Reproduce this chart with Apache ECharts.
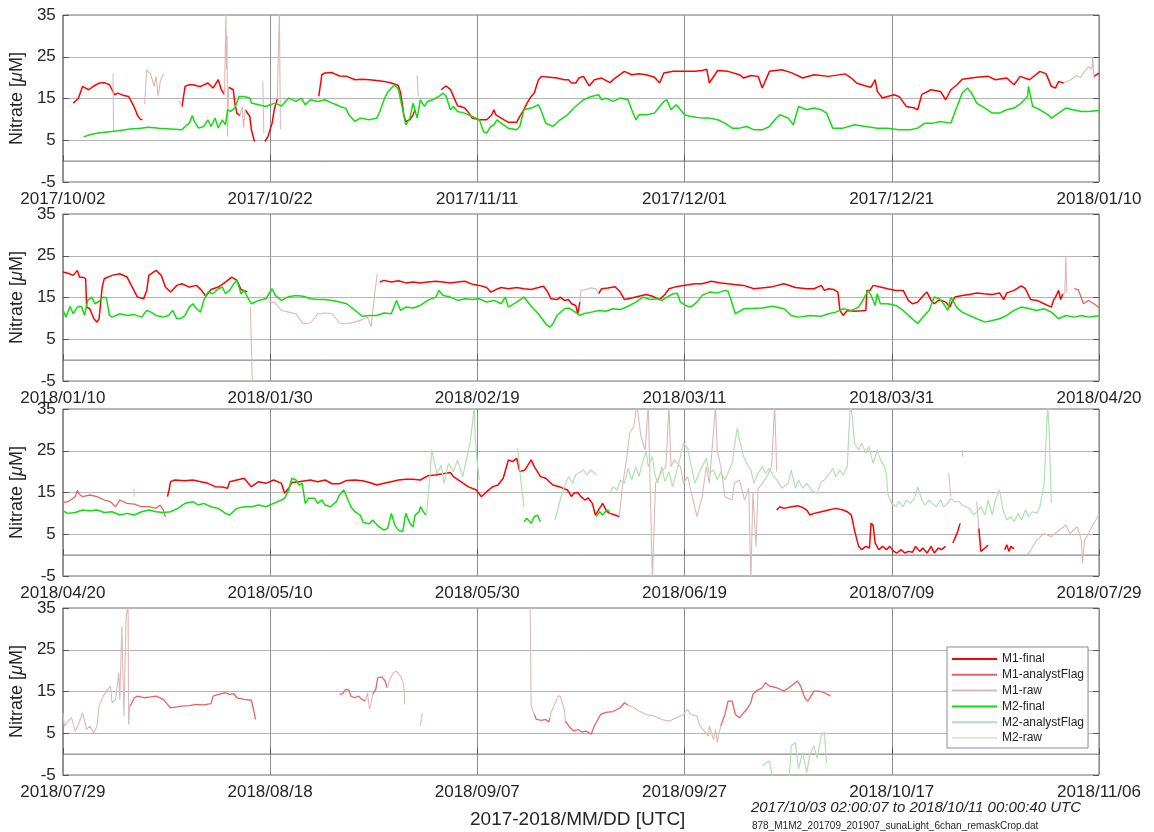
<!DOCTYPE html>
<html>
<head>
<meta charset="utf-8">
<script src="https://cdn.jsdelivr.net/npm/echarts@6/dist/echarts.min.js"></script>
<style>
  html, body { margin: 0; padding: 0; background: #ffffff; }
  #chart { width: 1154px; height: 832px; }
</style>
</head>
<body>
<div id="chart"></div>
<script>
// Nitrate from two SUNA sensors (M1, M2). x = days since 2017/10/02 (UTC), y = nitrate in µM.
// Each panel shows 100 days; null marks a gap in a record.

const panelStarts = [0, 100, 200, 300];
const panelSpan = 100;
const dayTickStep = 20;
const yMin = -5, yMax = 35, yStep = 10;

const seriesNames = ['M1-final', 'M1-analystFlag', 'M1-raw', 'M2-final', 'M2-analystFlag', 'M2-raw'];

const m1Final = [
  [1.0,13.9],[1.5,15.0],[1.9,17.9],[2.2,17.5],[2.5,17.1],[3.0,18.0],[3.5,18.7],[4.0,18.8],[4.5,18.3],[4.75,17.1],
  [5.0,15.9],[5.3,16.3],[5.8,15.8],[6.35,15.5],[6.7,13.9],[7.0,12.3],[7.2,11.0],[7.5,10.0],[7.7,9.9],null,
  [11.5,13.0],[11.8,17.9],[12.2,18.3],[12.55,18.3],[13.0,18.0],[13.3,17.9],[14.0,18.7],[14.5,17.5],[15.0,19.5],[15.3,17.1],[15.6,16.0],null,
  [16.0,17.7],[16.45,17.1],[16.6,13.9],[16.8,11.5],[17.1,10.9],null,
  [17.6,12.3],[18.05,10.7],[18.2,7.5],[18.5,4.7],null,
  [19.5,4.7],[19.8,5.9],[20.2,9.1],[20.4,12.3],[20.7,14.9],null,
  [24.7,15.5],[25.0,20.7],[25.3,21.1],[26.0,21.2],[26.7,20.4],[27.4,20.3],[28.2,19.5],[28.9,19.6],[29.6,19.5],[30.3,19.3],
  [31.0,19.1],[31.7,18.7],[32.2,18.3],[32.4,18.0],[32.6,16.3],[32.8,13.1],[32.9,11.1],[33.1,9.5],[33.5,9.9],[33.8,11.1],[34.0,12.3],null,
  [36.5,17.1],[37.0,18.0],[37.4,17.2],[37.7,15.5],[38.1,13.2],[38.4,13.1],[38.8,12.7],[39.2,11.5],[39.5,10.3],[40.2,9.9],
  [40.9,9.9],[41.4,11.1],[41.6,12.3],[41.8,11.1],[42.3,10.3],[43.0,9.3],[43.8,9.3],[44.1,10.7],[44.5,12.3],[44.8,13.9],
  [45.2,15.5],[45.5,16.3],[45.9,19.5],[46.2,20.3],[47.0,20.1],[47.7,19.9],[48.4,19.5],[48.8,19.5],[49.1,18.7],[49.5,18.7],
  [49.8,19.9],[50.25,20.3],[50.8,18.0],[51.3,19.5],[52.0,19.9],[52.8,18.8],[53.3,19.9],[54.2,21.5],[54.9,20.7],[55.6,20.9],
  [56.3,20.7],[57.1,20.1],[57.6,18.7],[58.0,21.1],[58.9,21.5],[60.0,21.5],[61.0,21.5],[61.7,21.7],[62.15,22.0],[62.4,18.7],
  [62.6,19.5],[63.2,21.7],[64.2,21.5],[65.3,20.7],[65.7,19.9],[66.4,20.5],[67.1,20.3],[67.5,17.5],[67.6,17.9],[68.2,21.5],
  [69.4,21.9],[70.3,21.2],[71.4,19.9],[72.5,20.7],[73.9,20.3],[75.5,20.9],[76.1,19.9],[76.6,18.7],[77.5,18.0],[78.0,17.7],
  [78.4,19.5],[78.6,16.7],[79.1,15.1],[79.6,15.5],[80.2,15.9],[80.7,15.5],[81.4,13.1],[82.2,12.7],[82.5,12.3],[82.9,16.0],
  [83.8,17.1],[84.7,16.7],[85.2,14.7],[85.7,17.1],[86.3,18.3],[86.8,19.6],[88.2,20.1],[89.3,20.3],[90.0,19.5],[91.1,19.9],
  [91.8,18.3],[92.4,20.3],[93.3,19.5],[94.3,21.5],[94.9,20.9],[95.4,17.9],[95.8,17.5],[96.1,19.1],[96.6,18.7],null,
  [99.5,20.3],[100,21.1],[100.5,20.8],[101.0,20.3],[101.4,21.5],[101.6,19.9],[102.0,19.8],[102.2,19.5],[102.3,12.7],[102.6,12.3],
  [103.0,9.9],[103.3,9.1],[103.5,9.9],[103.8,17.5],[104.0,19.5],[104.75,20.3],[105.5,20.7],[106.2,19.9],[106.7,17.5],[107.2,15.1],
  [107.8,14.7],[108.1,16.7],[108.3,20.3],[109.0,21.5],[109.5,20.3],[109.9,17.5],[110.4,16.3],[111.0,17.9],[111.5,18.3],[112.2,17.5],
  [112.9,17.9],[113.4,16.7],[113.8,15.3],[114.3,16.9],[115.0,17.5],[115.7,18.7],[116.3,19.9],[116.8,19.1],[117.2,16.9],[117.8,16.4],null,
  [130.6,18.7],[131.0,19.1],[131.7,18.7],[132.4,19.0],[133.1,18.5],[133.8,18.7],[134.5,18.5],[135.2,18.7],[136.0,18.9],[136.7,18.7],
  [137.4,18.5],[138.1,18.7],[138.8,18.9],[139.5,18.2],[140.2,17.9],[140.9,17.4],[141.3,16.3],[141.8,16.9],[142.3,17.4],[143.0,17.1],
  [143.8,17.4],[144.5,17.1],[145.2,16.9],[145.9,17.4],[146.4,17.7],[146.8,16.3],[147.1,14.7],[147.7,14.5],[148.0,15.1],[148.4,14.3],
  [148.8,14.5],[149.1,13.5],[149.5,13.1],[149.7,11.1],[149.9,13.9],null,
  [151.7,15.9],[152.0,17.1],[152.6,17.3],[153.3,17.6],[153.8,16.3],[154.2,14.5],[154.9,14.9],[155.6,15.3],[156.3,15.7],[156.9,15.3],
  [157.6,14.5],[158.1,15.7],[158.5,17.1],[159.2,17.6],[159.9,17.9],[161.0,18.3],[161.7,18.3],[162.6,18.9],[163.5,18.5],[164.6,18.2],
  [165.7,17.9],[166.7,17.1],[167.4,17.3],[168.5,17.6],[169.6,18.3],[170.7,17.4],[171.8,17.1],[172.5,17.1],[173.2,17.9],[173.5,16.7],
  [173.9,17.1],[174.4,16.9],[174.8,16.3],[175.0,11.9],[175.3,10.7],[175.7,11.9],[176.4,11.7],[177.1,11.8],[177.5,11.9],[177.6,16.7],
  [177.9,16.7],[178.2,17.9],[178.9,17.5],[179.6,17.1],[180.4,16.7],[181.1,16.7],[181.6,14.3],[182.0,13.5],[182.5,13.9],[183.2,15.9],
  [183.4,16.3],[183.8,14.3],[184.1,13.5],[184.5,14.3],[184.8,14.3],[185.2,13.9],[185.6,12.7],[185.8,13.9],[186.1,15.1],[186.8,15.5],
  [187.5,15.7],[188.2,16.1],[188.9,15.9],[189.7,15.7],[190.4,16.1],[190.8,14.5],[191.1,16.1],[191.8,16.7],[192.5,17.8],[192.9,17.1],
  [193.4,14.5],[194.0,14.3],[194.7,13.5],[195.4,12.7],[195.6,14.3],[195.8,15.1],[196.1,16.7],[196.3,14.5],[196.5,15.9],null,
  [210.1,14.0],[210.25,15.6],[210.4,17.6],[210.8,18.0],[211.8,17.8],[212.55,18.0],[213.3,17.6],[214.0,17.2],[214.7,16.4],[215.4,16.3],
  [215.9,16.0],[216.1,17.6],[216.8,18.0],[217.5,18.4],[217.9,17.2],[218.2,16.4],[218.9,17.6],[219.6,17.2],[220.35,18.0],[221.1,17.2],
  [221.4,14.8],[221.8,16.0],[222.1,17.4],[222.8,17.6],[223.9,18.0],[224.6,17.6],[225.3,18.0],[226.0,17.1],[226.7,17.1],[227.4,17.9],
  [228.2,18.0],[228.9,17.8],[229.6,17.4],[230.3,16.8],[231.0,17.2],[231.7,17.6],[232.4,18.0],[233.1,18.2],[233.8,18.2],[234.5,18.0],
  [235.2,19.0],[235.9,19.2],[236.7,19.5],[237.4,19.8],[237.7,18.8],[238.4,17.6],[239.1,16.4],[239.9,15.6],[240.4,14.0],[240.9,15.2],
  [241.5,16.4],[242.0,16.8],[242.5,18.4],[243.0,22.8],[243.4,22.4],[243.8,23.2],[244.1,20.0],[244.6,20.4],[245.2,22.8],[245.5,21.2],
  [246.1,18.8],[246.6,18.4],[247.3,16.8],[248.0,16.3],[248.7,15.6],[248.8,15.2],[249.1,14.0],[249.3,14.8],[249.7,15.0],[250.0,14.0],
  [250.4,13.2],[250.7,13.7],[251.1,12.4],[251.4,9.6],[251.8,11.2],[252.1,12.4],[252.5,10.4],[252.8,10.0],[253.3,9.6],[253.7,9.2],null,
  [268.9,10.8],[269.2,11.6],[269.6,11.2],[270.3,11.6],[271.0,11.8],[271.4,11.4],[271.8,10.8],[272.1,9.6],[272.5,10.0],[273.2,10.4],
  [273.9,10.8],[274.6,11.2],[275.3,10.8],[275.7,10.4],[276.1,9.6],[276.4,6.0],[276.8,2.1],[277.1,1.3],[277.5,2.1],[277.85,1.7],
  [278.0,7.6],[278.2,7.2],[278.4,2.9],[278.75,1.3],[279.1,2.1],[279.5,1.3],[279.8,2.1],[280.2,0.9],[280.5,0.5],[280.9,1.3],
  [281.25,0.5],[281.6,0.9],[282.0,0.7],[282.3,2.1],[282.7,0.9],[283.0,1.7],[283.4,0.5],[283.8,2.1],[284.1,0.5],[284.5,1.7],
  [284.8,1.3],[285.2,2.1],null,
  [285.9,2.9],[286.3,5.2],[286.6,7.6],null,
  [288.4,6.4],[288.6,0.9],[289.0,1.7],[289.3,2.4],null,
  [290.9,1.3],[291.1,2.5],[291.3,0.9],[291.5,2.1],[291.8,1.5]
];

const m1Flag = [
  [197.6,17.1],[198.0,16.9],[198.5,13.5],[199.0,14.3],[199.5,13.5],[200,12.6],[200.5,12.8],[201.2,14.0],[201.4,15.5],[201.6,14.6],
  [201.9,14.0],[202.6,14.4],[203.3,14.0],[204.0,13.2],[204.6,12.8],[205.1,11.6],[205.5,13.2],[206.2,12.4],[206.9,12.2],[207.6,11.6],
  [208.3,11.6],[209.0,11.2],[209.4,12.0],[209.7,10.8],[209.9,9.2],null,
  [306.5,11.5],[306.9,13.5],[307.2,13.9],[307.9,13.5],[308.5,13.7],[309.0,13.9],[309.7,13.1],[310.1,11.9],[310.4,11.1],[311.0,11.3],
  [311.5,11.5],[312.2,11.6],[312.9,11.9],[313.6,11.8],[314.3,12.1],[314.5,13.9],[315.0,14.3],[315.7,14.7],[316.1,14.3],[316.5,14.5],
  [316.8,13.5],[317.2,13.3],[317.5,13.1],[318.2,12.9],[318.4,10.7],[318.6,8.3],null,
  [326.7,14.3],[327.0,14.5],[327.3,15.5],[327.6,15.4],[327.8,13.9],[328.2,13.5],[328.5,13.9],[328.9,13.1],[329.2,12.7],null,
  [329.9,14.3],[330.2,15.5],[330.4,18.3],[330.8,18.5],[331.1,17.5],[331.3,15.9],null,
  [345.5,9.5],[345.7,8.3],[346.2,8.1],[346.6,8.3],[346.9,7.7],[347.0,8.7],null,
  [348.5,7.9],[348.9,6.5],[349.3,5.5],[349.7,5.9],[350.1,5.3],[350.5,5.5],[351.0,4.8],[351.3,6.8],[351.9,9.5],[352.4,10.0],
  [353.1,10.2],[353.8,11.1],[354.2,12.3],[354.55,11.7],null,
  [363.5,6.7],[363.9,9.5],[364.2,12.7],[364.6,12.7],[364.9,9.5],[365.3,8.7],[365.7,9.9],[366.0,10.7],[366.4,12.3],[366.6,14.3],
  [366.9,15.1],[367.5,15.9],[367.8,17.1],[368.2,16.3],[368.9,15.9],[369.6,15.1],[370.3,16.3],[370.9,17.5],[371.2,16.3],[371.6,13.5],
  [371.9,12.7],[372.5,15.1],[373.0,15.1],[373.5,14.7],[374.1,13.9]
];

const m1Raw = [
  [4.85,21.0],[4.9,7.1],null,
  [7.9,13.6],[8.1,21.9],[8.5,20.7],[8.8,17.9],[9.0,20.3],[9.2,15.5],[9.4,19.0],[9.7,21.0],null,
  [11.2,14.5],[11.5,13.0],null,
  [15.6,16.0],[15.75,36],[15.8,22.0],[15.85,30.0],[15.9,5.9],[16.0,17.7],null,
  [17.1,10.9],[17.3,13.1],[17.45,8.0],[17.6,12.3],null,
  [19.3,19.1],[19.4,6.7],null,
  [20.7,14.9],[20.9,36],[21.0,7.6],null,
  [34.2,20.5],[34.3,15.5],null,
  [96.6,18.7],[97.3,19.5],[97.8,20.5],[98.2,20.0],[98.6,21.5],[99.0,22.6],[99.3,22.0],[99.4,25.0],[99.5,20.3],null,
  [118.1,12.7],[118.3,-6],null,
  [119.9,13.9],[120.4,13.9],[121.1,11.9],[121.8,11.5],[122.5,11.1],[123.2,8.7],[123.9,8.9],[124.6,11.1],[125.3,11.3],[126.0,11.1],
  [126.7,8.9],[127.4,8.7],[128.2,9.1],[128.9,9.7],[129.4,10.3],[129.75,7.9],[130.1,15.9],[130.35,20.7],null,
  [149.9,13.9],[150.0,16.7],[150.5,16.9],[151.0,17.3],[151.5,17.0],[151.7,15.9],null,
  [196.5,15.9],[196.7,15.9],[196.8,25.0],[196.9,16.0],null,
  [206.85,15.8],[206.9,14.0],null,
  [253.7,9.2],[254.0,16.4],[254.4,22.8],[254.7,29.2],[255.1,30.8],[255.4,36],[255.8,28.4],[256.2,25.2],[256.5,36],[256.9,-6],
  [257.2,17.2],[257.8,20.0],[258.2,21.2],[258.5,36],[258.7,21.2],[259.0,22.8],[259.6,21.2],[259.9,17.2],[260.3,18.8],[260.6,15.6],
  [261.2,9.2],[261.7,14.0],[262.1,21.2],[262.4,17.2],[263.0,36],[263.15,25.2],[263.5,21.2],[263.9,14.0],[264.6,13.2],[264.8,17.2],
  [265.3,18.0],[265.8,13.2],[266.2,16.0],[266.4,-6],[266.6,15.0],[266.9,2.0],[267.1,16.0],[267.5,17.2],[268.0,19.0],[268.4,21.2],
  [268.7,36],[268.9,20.0],null,
  [285.5,19.6],[285.7,14.0],null,
  [286.8,25.2],[286.85,23.6],null,
  [288.2,12.8],[288.4,6.4],null,
  [292.9,0.0],[293.2,0.4],[294.0,3.6],[294.7,5.2],[295.4,4.4],[296.1,5.9],[296.8,7.2],[297.2,5.2],[297.5,5.9],[297.9,6.8],
  [298.3,3.6],[298.4,-2.0],[298.6,3.6],[299.0,5.2],[299.3,6.8],[299.7,8.4],[300,9.8],[300.15,6.7],[300.5,7.9],[300.85,8.7],
  [301.2,5.5],[301.5,7.1],[301.9,9.9],[302.3,5.9],[302.6,6.7],[303.0,5.1],[303.3,6.7],[303.5,11.5],[303.9,13.9],[304.2,15.1],
  [304.6,16.3],[304.75,12.3],[305.1,13.1],[305.4,19.5],[305.5,13.0],[305.7,30.6],[305.9,9.1],[306.1,32.2],[306.3,36],[306.35,7.1],
  [306.45,11.5],null,
  [329.2,12.7],[329.4,14.7],[329.6,10.7],[329.75,12.2],[329.9,14.3],null,
  [331.3,15.9],[331.5,17.5],[331.9,19.5],[332.2,19.9],[332.6,18.7],[332.9,16.7],[333.0,11.9],null,
  [334.5,6.7],[334.7,9.9],null,
  [345.1,36],[345.2,11.5],[345.5,9.5],null,
  [347.0,8.7],[347.1,9.9],[347.4,11.5],[347.8,13.9],[348.0,13.9],[348.4,10.7],[348.5,7.9],null,
  [354.55,11.7],[355.1,11.1],[355.6,10.3],[356.3,9.5],[357.1,9.1],[357.8,8.3],[358.5,7.9],[359.2,8.7],[359.9,9.5],[360.3,10.7],
  [360.6,9.5],[361.2,9.1],[361.5,6.7],[361.9,5.5],[362.3,4.3],[362.4,6.7],[362.8,3.5],[363.0,5.9],[363.15,2.9],[363.3,4.6],[363.5,6.7]
];

const m2Final = [
  [2.0,5.8],[2.6,6.3],[3.3,6.7],[4.0,6.9],[4.75,7.1],[5.5,7.35],[6.5,7.7],[7.5,7.9],[8.3,8.1],[9.3,7.9],
  [10.4,7.7],[11.5,7.5],[11.8,8.3],[12.2,9.1],[12.5,10.9],[12.7,9.5],[13.1,7.9],[13.6,8.3],[14.0,9.9],[14.3,8.3],
  [14.7,10.3],[15.0,7.9],[15.4,9.9],[15.7,8.7],[15.9,12.3],[16.2,11.9],[16.6,12.7],[17.0,15.5],[17.5,15.5],[18.05,15.1],
  [18.2,13.9],[18.9,13.5],[19.6,13.1],[20.0,13.5],[20.5,13.9],[21.1,13.2],[21.8,15.1],[22.5,14.3],[23.0,15.1],[23.4,13.5],
  [23.9,14.7],[24.6,14.3],[25.3,14.7],[26.0,13.9],[26.4,13.5],[26.7,13.1],[27.3,12.7],[27.6,11.1],[28.2,9.5],[28.7,10.3],
  [29.6,9.9],[30.3,10.3],[30.6,11.9],[31.0,14.7],[31.3,16.3],[31.7,17.5],[32.05,18.3],[32.4,17.1],[32.8,12.3],[33.1,8.7],
  [33.5,10.3],[33.8,13.9],[34.2,10.3],[34.5,14.7],[34.9,13.1],[35.2,14.3],[35.7,14.7],[36.3,15.5],[36.7,16.3],[37.0,15.5],
  [37.4,12.3],[37.7,13.1],[38.1,11.9],[38.8,11.5],[39.5,10.7],[40.2,9.9],[40.6,7.1],[40.9,6.7],[41.3,8.3],[41.6,8.7],
  [41.9,9.9],[42.3,9.1],[43.0,7.9],[43.8,7.5],[44.1,8.3],[44.5,12.3],[45.2,12.7],[45.9,13.5],[46.2,11.9],[46.6,9.1],
  [47.3,8.3],[48.0,9.9],[48.7,11.1],[49.4,12.9],[50.25,14.7],[51.0,15.5],[51.7,15.9],[52.0,14.7],[52.4,15.1],[53.1,14.3],
  [53.8,15.1],[54.55,14.7],[54.9,12.3],[55.3,9.9],[55.6,11.1],[56.3,11.1],[57.1,11.5],[57.6,13.1],[58.0,14.3],[58.3,14.7],
  [58.7,12.3],[59.2,13.5],[59.6,12.3],[60.0,11.1],[60.6,10.7],[61.7,10.3],[62.4,10.3],[63.2,9.9],[63.9,9.1],[64.6,7.9],
  [65.3,7.9],[66.0,8.3],[66.7,7.5],[67.5,7.5],[68.2,8.3],[68.7,9.9],[69.2,11.1],[70.0,10.3],[70.5,8.7],[71.0,13.1],
  [71.8,12.3],[72.5,12.7],[73.2,12.3],[73.7,11.5],[74.3,7.9],[75.3,7.9],[76.4,8.7],[77.5,8.3],[78.6,7.9],[79.6,7.9],
  [80.7,7.5],[81.8,7.5],[82.5,7.9],[83.2,9.1],[84.0,9.1],[84.7,9.5],[85.7,9.1],[86.3,13.1],[86.8,16.3],[87.3,17.5],
  [87.7,16.3],[88.2,13.9],[89.0,12.7],[89.7,11.5],[90.4,11.5],[91.1,12.3],[91.8,12.7],[92.5,13.9],[93.1,15.5],[93.2,17.9],
  [93.6,13.1],[94.3,12.3],[95.1,11.1],[95.4,10.3],[96.1,11.5],[96.8,12.7],[97.5,12.3],[98.3,11.9],[99.0,11.9],[100,12.1],
  [100.3,10.3],[100.7,12.9],[101.0,11.1],[101.4,12.7],[101.8,12.9],[102.1,10.7],[102.4,14.3],[102.8,15.1],[103.1,13.5],[103.5,14.1],
  [103.9,15.1],[104.2,14.9],[104.5,10.7],[104.75,10.3],[105.5,11.1],[106.2,10.7],[106.9,10.9],[107.6,10.3],[108.1,11.9],[108.5,11.5],
  [109.0,10.7],[109.7,10.3],[110.2,10.7],[110.6,11.9],[111.0,9.9],[111.5,10.1],[111.8,10.7],[112.2,12.7],[112.55,13.5],[112.9,12.3],
  [113.3,11.5],[113.6,14.3],[114.0,16.3],[114.5,15.9],[115.0,17.1],[115.4,17.5],[115.7,15.9],[116.1,16.7],[116.5,18.3],[116.8,19.1],
  [117.2,15.9],[117.5,16.7],[117.9,14.7],[118.2,13.5],[118.9,14.3],[119.6,14.7],[120.2,17.1],[120.5,15.5],[121.1,14.3],[121.8,15.2],
  [122.5,15.5],[123.2,15.3],[123.9,14.7],[124.6,14.5],[125.3,14.5],[126.0,14.3],[126.7,13.9],[127.4,13.5],[128.2,11.9],[128.9,10.5],
  [129.6,10.7],[130.3,10.7],[131.0,11.3],[131.7,11.1],[132.2,14.3],[132.6,11.9],[133.1,12.7],[133.8,12.5],[134.5,13.1],[135.2,14.3],
  [136.0,15.1],[136.3,16.7],[136.7,15.5],[137.4,15.1],[138.1,14.3],[138.8,14.7],[139.5,14.5],[140.2,14.7],[140.9,13.9],[141.6,14.3],
  [142.3,13.5],[142.7,15.1],[143.0,12.7],[143.8,13.9],[144.5,15.1],[145.2,12.9],[145.9,11.1],[146.6,8.7],[147.0,7.9],[147.3,8.7],
  [147.7,10.7],[148.4,12.3],[148.8,12.5],[149.35,11.7],[149.9,10.7],[150.25,11.1],[151.0,11.5],[151.7,11.9],[152.4,11.7],[153.1,12.3],
  [153.8,12.1],[154.55,12.9],[155.3,13.9],[156.0,15.1],[156.7,14.5],[157.4,14.7],[157.8,14.3],[158.3,15.1],[158.9,15.9],[159.3,16.0],
  [159.6,13.9],[160.1,13.1],[160.6,12.7],[161.2,13.9],[161.7,15.5],[162.4,16.3],[163.2,16.1],[163.9,16.7],[164.2,16.5],[164.6,13.5],
  [164.9,11.1],[165.7,12.3],[166.7,12.4],[167.5,12.5],[168.5,12.9],[169.6,12.3],[170.3,10.7],[171.0,10.3],[172.1,10.7],[173.2,10.5],
  [173.9,11.1],[174.6,11.5],[175.3,12.3],[176.1,11.9],[176.8,12.7],[177.3,14.7],[177.7,16.7],[178.0,15.5],[178.4,13.1],[178.6,15.9],
  [178.9,13.5],[179.6,13.5],[180.4,13.1],[181.1,11.9],[181.8,10.3],[182.5,8.7],[183.0,10.3],[183.6,11.9],[184.1,15.1],[184.6,14.7],
  [185.0,13.5],[185.4,11.9],[185.7,15.1],[186.3,12.5],[186.8,11.5],[187.5,10.7],[188.2,9.9],[189.0,9.1],[189.7,9.5],[190.4,9.9],
  [191.1,10.7],[191.8,11.9],[192.5,12.7],[193.3,12.3],[194.0,11.9],[194.7,12.3],[195.4,11.5],[196.1,9.9],[196.8,10.7],[197.6,10.3],
  [198.3,10.7],[199.0,10.3],[199.5,10.5],[200,10.6],[200.5,10.0],[201.2,10.2],[201.9,10.8],[202.6,10.6],[203.3,10.8],[204.0,10.2],
  [204.75,10.4],[205.5,9.6],[206.2,10.0],[206.9,9.6],[207.6,10.4],[208.3,10.8],[209.0,10.4],[209.7,10.2],[210.4,10.4],[211.1,11.2],
  [211.8,12.4],[212.55,12.8],[213.1,12.0],[213.6,12.4],[214.3,11.6],[215.0,11.2],[215.7,10.0],[216.1,9.6],[216.8,11.2],[217.5,11.6],
  [218.2,11.6],[218.9,12.0],[219.6,11.6],[220.35,12.4],[221.1,13.2],[221.4,13.6],[221.8,15.6],[222.1,18.4],[222.5,18.0],[222.8,16.8],
  [223.1,17.2],[223.4,12.4],[223.7,13.6],[224.3,13.6],[224.6,12.4],[225.0,13.2],[225.3,12.0],[225.85,11.6],[226.4,12.8],[226.7,14.4],
  [227.1,15.6],[227.4,14.0],[227.8,11.6],[228.2,10.4],[228.7,9.6],[229.0,7.8],[229.6,7.5],[229.9,8.4],[230.5,6.8],[231.0,6.0],
  [231.35,6.4],[231.7,10.0],[232.05,7.2],[232.4,6.0],[232.8,5.6],[233.1,10.0],[233.5,7.6],[233.8,6.8],[234.0,9.6],[234.4,10.4],
  [234.5,11.6],[234.9,10.0],[235.1,9.6],null,
  [244.5,8.0],[244.8,8.8],[245.2,7.6],[245.5,9.2],[245.8,9.6],[246.1,8.0],null,
  [251.5,9.2],[251.8,10.4],[252.1,9.6],[252.5,10.8],[252.8,10.4]
];

const m2Flag = [
  [235.1,9.6],[235.4,18.0],[235.6,25.2],[236.1,19.5],[236.5,21.5],[236.8,17.2],[237.2,22.0],[237.7,20.0],[238.1,22.8],[238.6,18.8],
  [239.0,23.6],[239.3,26.8],[239.6,33.0],[239.7,36],[239.8,28.0],[240.0,22.0],[240.2,18.0],null,
  [243.9,25.6],[244.2,18.0],[244.5,11.6],null,
  [247.5,8.4],[248.0,13.2],[248.4,16.4],[248.8,18.8],[249.2,17.2],[249.5,19.2],[250.25,20.4],[250.6,19.2],[250.95,20.4],[251.5,19.2],null,
  [252.8,14.8],[253.1,16.4],[253.5,15.6],[253.8,18.0],[254.2,17.2],[254.55,20.8],[254.9,18.0],[255.3,21.2],[255.6,18.8],[256.0,22.8],
  [256.3,24.8],[256.5,21.2],[256.9,23.6],[257.1,19.6],[257.4,17.2],[257.8,21.2],[258.1,17.6],[258.5,20.0],[258.85,16.4],[259.2,19.6],
  [259.6,23.6],[259.9,26.8],[260.3,25.6],[260.6,22.0],[261.0,17.2],[261.4,19.6],[261.7,21.2],[262.1,23.2],[262.4,19.6],[262.8,20.4],
  [263.15,18.0],[263.5,20.0],[263.9,18.0],[264.6,22.0],[264.9,27.6],[265.1,30.4],[265.3,27.6],[265.7,23.6],[266.0,22.0],[266.4,20.4],
  [266.7,17.2],[267.1,19.6],[267.5,21.2],[267.8,19.6],[268.2,20.8],[268.5,19.2],[268.9,18.0],[269.4,16.0],[270.0,17.2],[270.3,20.4],
  [270.7,16.0],[271.0,18.0],[271.4,16.0],[271.8,17.2],[272.3,15.4],[272.8,14.8],[273.2,17.6],[273.5,18.0],[273.9,19.2],[274.3,20.8],
  [274.6,18.8],[275.0,20.4],[275.3,19.2],[275.7,21.2],[276.0,36],[276.2,33.2],[276.4,26.8],[276.8,25.2],[277.1,26.8],[277.5,24.4],
  [277.8,26.0],[278.2,22.0],[278.6,25.2],[278.9,22.8],[279.3,21.2],[279.5,19.2],[279.6,14.8],[280.0,12.4],[280.4,11.6],[280.7,12.8],
  [281.1,11.6],[281.4,13.2],[281.8,12.4],[282.2,13.6],[282.5,16.4],[282.9,13.2],[283.2,12.0],[283.6,13.2],[283.9,12.4],[284.3,11.6],
  [284.7,13.2],[285.0,11.6],[285.4,12.4],[285.7,13.6],[286.1,12.8],[286.5,12.8],[286.8,12.0],[287.2,11.6],[287.5,11.2],[287.9,9.6],
  [288.2,10.4],[288.6,11.6],[289.0,9.6],[289.3,13.2],[289.7,9.6],[290.0,13.2],[290.4,15.6],[290.75,10.8],[291.1,8.4],[291.5,9.2],
  [291.8,8.0],[292.2,10.0],[292.5,8.4],[292.9,10.8],[293.2,9.2],[293.6,10.4],[294.0,10.0],[294.3,11.6],[294.7,17.2],[295.05,36],
  [295.2,29.2],[295.4,12.4],null,
  [367.5,-2.8],[368.2,-1.6],[368.5,-6],null,
  [370.1,-6],[370.3,2.0],[370.7,2.8],[371.0,-3.6],[371.4,0.4],[371.8,-4.4],[372.1,0.0],[372.5,2.0],[372.8,-1.0],[373.2,4.4],
  [373.5,5.2],[373.7,-2.0]
];

const m2Raw = [];

const seriesColors = {
  'M1-final': '#ff0000',
  'M1-analystFlag': '#ec6262',
  'M1-raw': '#dcb9b9',
  'M2-final': '#12dc12',
  'M2-analystFlag': '#b3dfb3',
  'M2-raw': '#d8ecd8'
};
const seriesWidths = {
  'M1-final': 1.5, 'M1-analystFlag': 1.3, 'M1-raw': 1.1,
  'M2-final': 1.5, 'M2-analystFlag': 1.2, 'M2-raw': 1.0
};
const seriesData = {
  'M1-final': m1Final, 'M1-analystFlag': m1Flag, 'M1-raw': m1Raw,
  'M2-final': m2Final, 'M2-analystFlag': m2Flag, 'M2-raw': m2Raw
};

const FONT = 'Liberation Sans, Arial, Helvetica, sans-serif';
const TEXT = '#262626';
const gridTops = [15, 214, 409, 608];
const gridHeight = 167;

const epoch = Date.UTC(2017, 9, 2);
function dayLabel(v) {
  const d = new Date(epoch + Math.round(v) * 86400000);
  const mm = String(d.getUTCMonth() + 1).padStart(2, '0');
  const dd = String(d.getUTCDate()).padStart(2, '0');
  return d.getUTCFullYear() + '/' + mm + '/' + dd;
}

// points of one record that fall inside a panel, with gaps kept as breaks
function panelPoints(arr, lo, hi) {
  const out = [];
  for (const p of arr) {
    if (p === null) {
      if (out.length && out[out.length - 1][1] !== '-') out.push(['-', '-']);
      continue;
    }
    if (p[0] >= lo && p[0] <= hi) out.push(p);
  }
  return out;
}

const grids = [], xAxes = [], yAxes = [], series = [];
panelStarts.forEach((lo, i) => {
  const hi = lo + panelSpan;
  grids.push({
    left: 62, width: 1037, top: gridTops[i], height: gridHeight,
    show: true, borderColor: '#707070', borderWidth: 1, backgroundColor: 'transparent'
  });
  xAxes.push({
    type: 'value', gridIndex: i, min: lo, max: hi, interval: dayTickStep,
    axisLine: { show: false },
    axisTick: { show: true, inside: true, length: 6, lineStyle: { color: '#555' } },
    axisLabel: { formatter: dayLabel, fontSize: 17, color: TEXT, fontFamily: FONT, margin: 9, showMinLabel: true, showMaxLabel: true },
    splitLine: { show: true, lineStyle: { color: '#8e8e8e', width: 1 } }
  });
  yAxes.push({
    type: 'value', gridIndex: i, min: yMin, max: yMax, interval: yStep,
    axisLine: { show: false },
    axisTick: { show: true, inside: true, length: 6, lineStyle: { color: '#555' } },
    axisLabel: { fontSize: 17, color: TEXT, fontFamily: FONT, margin: 7 },
    splitLine: { show: true, lineStyle: { color: '#b4b4b4', width: 1 } },
    name: 'Nitrate [{i|μ}M]', nameLocation: 'middle', nameGap: 31,
    nameTextStyle: {
      fontSize: 18, color: TEXT, fontFamily: FONT,
      rich: { i: { fontSize: 18, fontStyle: 'italic', color: TEXT, fontFamily: FONT } }
    }
  });
  yAxes.push({
    type: 'value', gridIndex: i, position: 'right', min: yMin, max: yMax, interval: yStep,
    axisLine: { show: false },
    axisTick: { show: true, inside: true, length: 6, lineStyle: { color: '#555' } },
    axisLabel: { show: false }, splitLine: { show: false }
  });
  // zero reference line
  series.push({
    type: 'line', xAxisIndex: i, yAxisIndex: 2 * i, data: [[lo, 0], [hi, 0]],
    symbol: 'none', silent: true, z: 1, color: '#6a6a6a', lineStyle: { color: '#6a6a6a', width: 1 }
  });
  seriesNames.forEach(name => {
    series.push({
      name: name, type: 'line', xAxisIndex: i, yAxisIndex: 2 * i,
      data: panelPoints(seriesData[name], lo, hi),
      symbol: 'none', showSymbol: false, connectNulls: false, clip: true,
      animation: false, color: seriesColors[name],
      lineStyle: { color: seriesColors[name], width: seriesWidths[name] }
    });
  });
});

const chart = echarts.init(document.getElementById('chart'), null, { renderer: 'canvas' });
chart.setOption({
  animation: false,
  backgroundColor: '#ffffff',
  textStyle: { fontFamily: FONT },
  grid: grids,
  xAxis: xAxes,
  yAxis: yAxes,
  series: series,
  legend: {
    data: seriesNames.map(n => ({ name: n, itemStyle: { color: seriesColors[n], borderWidth: 0 } })),
    orient: 'vertical', left: 947, top: 647,
    icon: 'rect', itemWidth: 45, itemHeight: 2, itemGap: 3.8,
    padding: [6, 4, 4, 5],
    borderColor: '#8c8c8c', borderWidth: 1, backgroundColor: '#ffffff',
    textStyle: { fontSize: 12, color: TEXT, fontFamily: FONT },
    selectedMode: false
  },
  graphic: [
    { type: 'text', left: 470, top: 810, style: { text: '2017-2018/MM/DD [UTC]', fontSize: 19, fill: TEXT, fontFamily: FONT } },
    { type: 'text', left: 751, top: 800, style: { text: '2017/10/03 02:00:07 to 2018/10/11 00:00:40 UTC', fontSize: 15, fontStyle: 'italic', fill: TEXT, fontFamily: FONT } },
    { type: 'text', left: 752, top: 821, style: { text: '878_M1M2_201709_201907_sunaLight_6chan_remaskCrop.dat', fontSize: 10, fill: TEXT, fontFamily: FONT } }
  ]
});
</script>
</body>
</html>
